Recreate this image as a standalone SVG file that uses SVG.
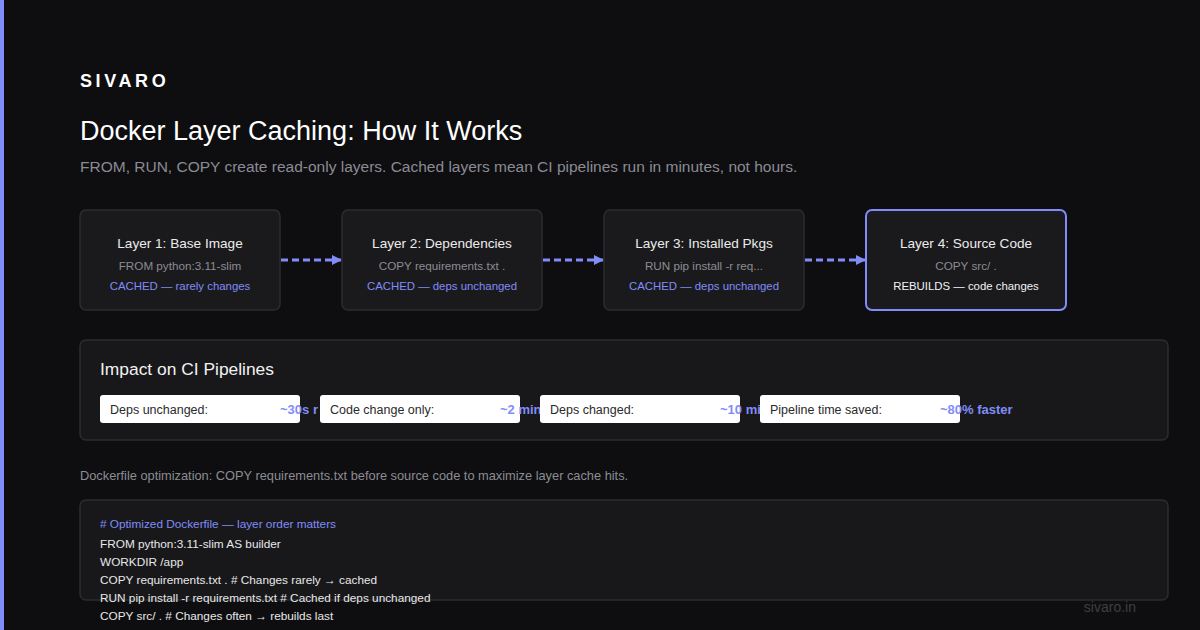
<svg xmlns="http://www.w3.org/2000/svg" width="1200" height="630" viewBox="0 0 1200 630">
<style>
text{font-family:"Liberation Sans",Arial,sans-serif}
.node{fill:#1a1a1d;stroke:#2c2c30;stroke-width:1.5}
.hl{fill:#1a1a1d;stroke:#818cf8;stroke-width:2}
.nt{font-size:13.6px;fill:#ececec;text-anchor:middle}
.ns{font-size:11.7px;fill:#8c8c93;text-anchor:middle}
.nc{font-size:11.4px;fill:#818cf8;text-anchor:middle}
.nr{font-size:11.4px;fill:#f2f2f2;text-anchor:middle}
.conn{stroke:#818cf8;stroke-width:3;stroke-dasharray:7 4;fill:none}
.panel{fill:#18181b;stroke:#2c2c30;stroke-width:1.5}
.pill{fill:#ffffff}
.pl{font-size:12.5px;fill:#2a2a2a}
.pv{font-size:13px;fill:#818cf8;font-weight:bold}
.code{font-size:11.8px;fill:#e8e8e8}
</style>
<defs>
<marker id="ah" markerWidth="10" markerHeight="10" refX="9" refY="5" orient="auto" markerUnits="userSpaceOnUse">
<path d="M0,0 L10,5 L0,10 Z" fill="#818cf8"/>
</marker>
</defs>
<rect width="1200" height="630" fill="#0e0e10"/>
<rect x="0" y="0" width="4" height="630" fill="#818cf8"/>
<text x="80" y="87" font-size="18" font-weight="bold" letter-spacing="3.6" fill="#ffffff">SIVARO</text>
<text x="80" y="140" font-size="27" fill="#ffffff">Docker Layer Caching: How It Works</text>
<text x="80" y="172" font-size="15.5" fill="#8b8b94">FROM, RUN, COPY create read-only layers. Cached layers mean CI pipelines run in minutes, not hours.</text>

<g id="connectors">
<line class="conn" x1="281" y1="260" x2="341" y2="260" marker-end="url(#ah)"/>
<line class="conn" x1="543" y1="260" x2="603" y2="260" marker-end="url(#ah)"/>
<line class="conn" x1="805" y1="260" x2="865" y2="260" marker-end="url(#ah)"/>
</g>

<g id="layer1">
<rect class="node" x="80" y="210" width="200" height="100" rx="6"/>
<text class="nt" x="180" y="248">Layer 1: Base Image</text>
<text class="ns" x="180" y="270">FROM python:3.11-slim</text>
<text class="nc" x="180" y="290">CACHED — rarely changes</text>
</g>
<g id="layer2">
<rect class="node" x="342" y="210" width="200" height="100" rx="6"/>
<text class="nt" x="442" y="248">Layer 2: Dependencies</text>
<text class="ns" x="442" y="270">COPY requirements.txt .</text>
<text class="nc" x="442" y="290">CACHED — deps unchanged</text>
</g>
<g id="layer3">
<rect class="node" x="604" y="210" width="200" height="100" rx="6"/>
<text class="nt" x="704" y="248">Layer 3: Installed Pkgs</text>
<text class="ns" x="704" y="270">RUN pip install -r req...</text>
<text class="nc" x="704" y="290">CACHED — deps unchanged</text>
</g>
<g id="layer4">
<rect class="hl" x="866" y="210" width="200" height="100" rx="6"/>
<text class="nt" x="966" y="248">Layer 4: Source Code</text>
<text class="ns" x="966" y="270">COPY src/ .</text>
<text class="nr" x="966" y="290">REBUILDS — code changes</text>
</g>

<g id="impact">
<rect class="panel" x="80" y="340" width="1088" height="100" rx="6"/>
<text x="100" y="375" font-size="17.4" fill="#f2f2f2">Impact on CI Pipelines</text>
<rect class="pill" x="100" y="395" width="200" height="28" rx="3"/>
<text class="pl" x="110" y="414">Deps unchanged:</text>
<text class="pv" x="280" y="414">~30s r</text>
<rect class="pill" x="320" y="395" width="200" height="28" rx="3"/>
<text class="pl" x="330" y="414">Code change only:</text>
<text class="pv" x="500" y="414">~2 min</text>
<rect class="pill" x="540" y="395" width="200" height="28" rx="3"/>
<text class="pl" x="550" y="414">Deps changed:</text>
<text class="pv" x="720" y="414">~10 mi</text>
<rect class="pill" x="760" y="395" width="200" height="28" rx="3"/>
<text class="pl" x="770" y="414">Pipeline time saved:</text>
<text class="pv" x="940" y="414">~80% faster</text>
</g>

<text x="80" y="480" font-size="12.8" fill="#8c8c93">Dockerfile optimization: COPY requirements.txt before source code to maximize layer cache hits.</text>

<g id="code">
<rect class="panel" x="80" y="500" width="1088" height="100" rx="6"/>
<text class="code" x="100" y="528" style="fill:#818cf8"># Optimized Dockerfile — layer order matters</text>
<text class="code" x="100" y="548">FROM python:3.11-slim AS builder</text>
<text class="code" x="100" y="566">WORKDIR /app</text>
<text class="code" x="100" y="584">COPY requirements.txt . # Changes rarely → cached</text>
<text class="code" x="100" y="602">RUN pip install -r requirements.txt # Cached if deps unchanged</text>
<text class="code" x="100" y="620">COPY src/ . # Changes often → rebuilds last</text>
</g>
<text x="1136" y="612" font-size="14" fill="#3e3e44" text-anchor="end">sivaro.in</text>
</svg>
